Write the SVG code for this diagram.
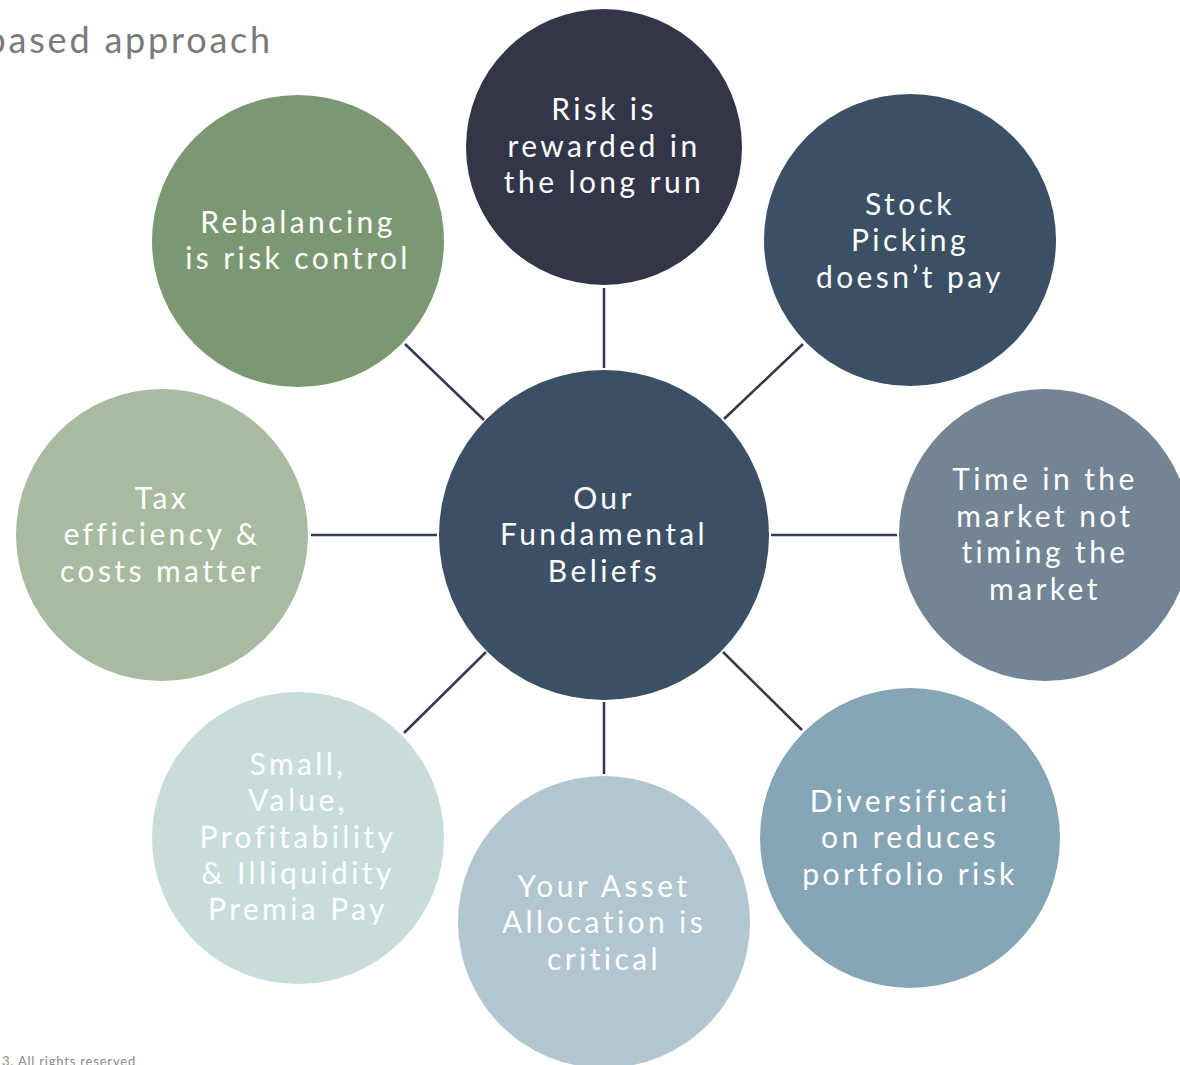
<svg xmlns="http://www.w3.org/2000/svg" width="1180" height="1065" viewBox="0 0 1180 1065">
<style>
.t{font-family:Lato,"Noto Sans","Liberation Sans",sans-serif;font-size:30px;fill:#ffffff;text-anchor:middle;letter-spacing:3.4px}
.c{stroke:#2f3b4e;stroke-width:2.5;fill:none}
</style>
<rect width="1180" height="1065" fill="#ffffff"/>
<text x="273" y="53" font-family="Lato, Noto Sans, Liberation Sans, sans-serif" font-size="36" fill="#7a7a7a" text-anchor="end" letter-spacing="2.8">based approach</text>
<text x="2" y="1066" font-family="Lato, Noto Sans, Liberation Sans, sans-serif" font-size="13" fill="#8a8a8a" letter-spacing="0.8">3. All rights reserved</text>
<g id="connectors">
<line class="c" x1="604" y1="288" x2="604" y2="368"/>
<line class="c" x1="604" y1="702" x2="604" y2="774"/>
<line class="c" x1="311" y1="535" x2="437" y2="535"/>
<line class="c" x1="771" y1="535" x2="897" y2="535"/>
<line class="c" x1="405" y1="344" x2="484" y2="420"/>
<line class="c" x1="724" y1="419" x2="803" y2="344"/>
<line class="c" x1="486" y1="652" x2="404" y2="733"/>
<line class="c" x1="723" y1="652" x2="802" y2="730"/>
</g>
<g id="center">
<circle cx="604" cy="535" r="165" fill="#3b5064"/>
<text class="t"><tspan x="604" y="509">Our</tspan><tspan x="604" y="545">Fundamental</tspan><tspan x="604" y="582">Beliefs</tspan></text>
</g>
<g id="risk">
<circle cx="604" cy="147" r="138" fill="#333649"/>
<text class="t"><tspan x="604" y="120">Risk is</tspan><tspan x="604" y="157">rewarded in</tspan><tspan x="604" y="193">the long run</tspan></text>
</g>
<g id="stock">
<circle cx="910" cy="240" r="146" fill="#3b5064"/>
<text class="t"><tspan x="910" y="215">Stock</tspan><tspan x="910" y="251">Picking</tspan><tspan x="910" y="288">doesn’t pay</tspan></text>
</g>
<g id="rebalancing">
<circle cx="298" cy="241" r="146" fill="#7b9873"/>
<text class="t"><tspan x="298" y="233">Rebalancing</tspan><tspan x="298" y="269">is risk control</tspan></text>
</g>
<g id="tax">
<circle cx="162" cy="535" r="146" fill="#a8baa0"/>
<text class="t"><tspan x="162" y="509">Tax</tspan><tspan x="162" y="545">efficiency &amp;</tspan><tspan x="162" y="582">costs matter</tspan></text>
</g>
<g id="time">
<circle cx="1045" cy="535" r="146" fill="#738494"/>
<text class="t"><tspan x="1045" y="490">Time in the</tspan><tspan x="1045" y="527">market not</tspan><tspan x="1045" y="563">timing the</tspan><tspan x="1045" y="600">market</tspan></text>
</g>
<g id="small">
<circle cx="298" cy="838" r="146" fill="#c9dcdc"/>
<text class="t"><tspan x="298" y="775">Small,</tspan><tspan x="298" y="811">Value,</tspan><tspan x="298" y="848">Profitability</tspan><tspan x="298" y="884">&amp; Illiquidity</tspan><tspan x="298" y="920">Premia Pay</tspan></text>
</g>
<g id="asset">
<circle cx="604" cy="922" r="146" fill="#b1c6d0"/>
<text class="t"><tspan x="604" y="897">Your Asset</tspan><tspan x="604" y="933">Allocation is</tspan><tspan x="604" y="970">critical</tspan></text>
</g>
<g id="diversification">
<circle cx="910" cy="838" r="150" fill="#87a6b5"/>
<text class="t"><tspan x="910" y="812">Diversificati</tspan><tspan x="910" y="848">on reduces</tspan><tspan x="910" y="885">portfolio risk</tspan></text>
</g>
</svg>
